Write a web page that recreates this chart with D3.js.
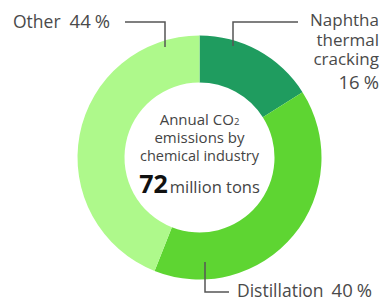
<!DOCTYPE html>
<html>
<head>
	<script src="https://d3js.org/d3.v7.min.js"></script>
	<style>
		body { margin: 0; background: #fff; }
		svg { display: block; font-family: "Open Sans", sans-serif; }
	</style>
</head>
<body>
	<script>
		// data
		var categories = ["Naphtha thermal cracking", "Distillation", "Other"];
		var shares = [16, 40, 44];
		var colors = ["#1f9c5f", "#5ed532", "#aef98b"];

		var width = 382, height = 302;
		var cx = 199.5, cy = 157.5, outerR = 122, innerR = 75;

		var svg = d3.select("body").append("svg")
			.attr("width", width)
			.attr("height", height);

		var pie = d3.pie().sort(null).value(function(d){ return d; });
		var arc = d3.arc().innerRadius(innerR).outerRadius(outerR);

		var g = svg.append("g").attr("transform", "translate(" + cx + "," + cy + ")");
		g.selectAll("path")
			.data(pie(shares))
			.enter().append("path")
			.attr("d", arc)
			.attr("fill", function(d, i){ return colors[i]; });

		// leader lines
		var lineColor = "#555";
		function leader(pts) {
			svg.append("path")
				.attr("d", d3.line()(pts))
				.attr("fill", "none")
				.attr("stroke", lineColor)
				.attr("stroke-width", 1.5);
		}
		leader([[233, 46], [233, 22], [298, 22]]);
		leader([[125, 22], [165, 22], [165, 47]]);
		leader([[205, 262], [205, 292], [229, 292]]);

		var labelColor = "#4a4a4a";
		function pct(sel, v, gap) {
			sel.append("tspan").attr("dx", gap).style("font-size", "18.5px").text(v);
			sel.append("tspan").attr("dx", 4).style("font-size", "18.5px").text("%");
		}

		// Naphtha label
		var nap = svg.append("text")
			.attr("text-anchor", "end")
			.attr("fill", labelColor)
			.style("font-size", "17px");
		var napLines = ["Naphtha", "thermal", "cracking"];
		napLines.forEach(function(t, i){
			nap.append("tspan").attr("x", 379).attr("y", 26 + i * 19.5).text(t);
		});
		var np = svg.append("text")
			.attr("text-anchor", "end")
			.attr("x", 379).attr("y", 89)
			.attr("fill", labelColor);
		pct(np, shares[0], 0);

		// Other label
		var oth = svg.append("text")
			.attr("x", 13).attr("y", 28)
			.attr("fill", labelColor)
			.style("font-size", "17.5px")
			.text("Other");
		pct(oth, shares[2], 9);

		// Distillation label
		var dis = svg.append("text")
			.attr("x", 237).attr("y", 297)
			.attr("fill", labelColor)
			.style("font-size", "17.5px")
			.text("Distillation");
		pct(dis, shares[1], 8);

		// center text
		var center = svg.append("text")
			.attr("text-anchor", "middle")
			.attr("fill", "#444")
			.style("font-size", "15px");
		center.append("tspan").attr("x", cx).attr("y", 125).html("Annual CO<tspan style='font-size:9.5px'>2</tspan>");
		center.append("tspan").attr("x", cx).attr("y", 143).text("emissions by");
		center.append("tspan").attr("x", cx).attr("y", 161).style("font-size", "14.5px").text("chemical industry");

		var tot = svg.append("text")
			.attr("x", cx).attr("y", 193)
			.attr("text-anchor", "middle")
			.attr("fill", "#444")
			.style("font-size", "16.5px");
		tot.append("tspan").attr("fill", "#111").style("font-size", "25px").style("font-weight", "bold").text("72");
		tot.append("tspan").attr("dx", 2).text("million tons");
	</script>
</body>
</html>
